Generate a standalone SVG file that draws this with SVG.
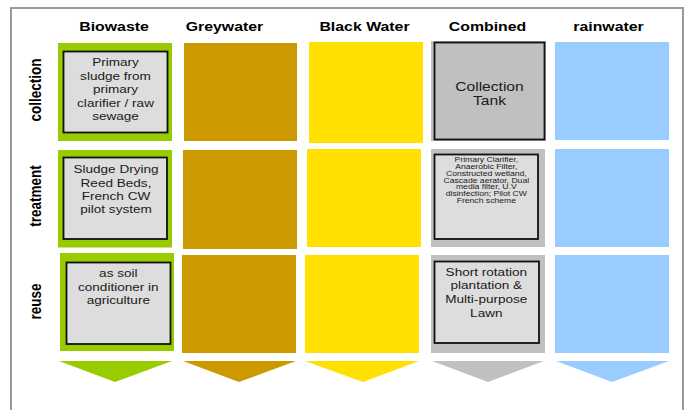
<svg xmlns="http://www.w3.org/2000/svg" width="687" height="410" viewBox="0 0 687 410">
<style>
.hdr{font-family:"Liberation Sans",Arial,sans-serif;font-weight:bold;font-size:13px;fill:#000;text-anchor:middle}
.row{font-family:"Liberation Sans",Arial,sans-serif;font-weight:bold;font-size:13.5px;fill:#000;text-anchor:middle}
.t{font-family:"Liberation Sans",Arial,sans-serif;font-size:11.5px;fill:#1a1a1a;text-anchor:middle}
.tl{font-family:"Liberation Sans",Arial,sans-serif;font-size:13px;fill:#1a1a1a;text-anchor:middle}
.s{font-family:"Liberation Sans",Arial,sans-serif;font-size:7.3px;fill:#1a1a1a;text-anchor:middle}
.bio{fill:#99CC00}.grey{fill:#CC9900}.black{fill:#FFE000}.comb{fill:#C0C0C0}.rain{fill:#99CCFF}
.inner{fill:#DDDDDD;stroke:#111;stroke-width:1.8}
.innerg{fill:#C0C0C0;stroke:#111;stroke-width:1.8}
</style>
<rect x="0" y="0" width="687" height="410" fill="#fff"/>
<rect x="11" y="8" width="672" height="412" fill="none" stroke="#9a9a9a" stroke-width="2"/>
<g id="headers">
<text class="hdr" transform="translate(114 31) scale(1.22 1)">Biowaste</text>
<text class="hdr" transform="translate(224.5 31) scale(1.22 1)">Greywater</text>
<text class="hdr" transform="translate(364.5 31) scale(1.22 1)">Black Water</text>
<text class="hdr" transform="translate(487.5 31) scale(1.22 1)">Combined</text>
<text class="hdr" transform="translate(608.5 31) scale(1.22 1)">rainwater</text>
</g>
<g id="rowlabels">
<text class="row" transform="translate(41 90) scale(1.25 1) rotate(-90)">collection</text>
<text class="row" transform="translate(41 196) scale(1.25 1) rotate(-90)">treatment</text>
<text class="row" transform="translate(41 301.5) scale(1.25 1) rotate(-90)">reuse</text>
</g>
<g id="bio-collection">
<rect class="bio" x="58" y="43" width="114" height="98"/>
<rect class="inner" x="63.5" y="51.5" width="104" height="81"/>
<text class="t" transform="translate(115.5 0) scale(1.18 1)"><tspan x="0" y="66">Primary</tspan><tspan x="0" y="80">sludge from</tspan><tspan x="0" y="93.5">primary</tspan><tspan x="0" y="107">clarifier / raw</tspan><tspan x="0" y="120.5">sewage</tspan></text>
</g>
<g id="grey-collection"><rect class="grey" x="184" y="43" width="113" height="98"/></g>
<g id="black-collection"><rect class="black" x="309" y="42" width="114" height="101"/></g>
<g id="comb-collection">
<rect class="comb" x="431" y="41" width="115" height="100"/>
<rect class="innerg" x="434.5" y="42.5" width="110" height="97"/>
<text class="tl" transform="translate(489.5 0) scale(1.2 1)"><tspan x="0" y="91">Collection</tspan><tspan x="0" y="105.5">Tank</tspan></text>
</g>
<g id="rain-collection"><rect class="rain" x="555" y="42" width="114" height="98"/></g>

<g id="bio-treatment">
<rect class="bio" x="58" y="150" width="114" height="97.5"/>
<rect class="inner" x="63.5" y="157.5" width="103.5" height="81.5"/>
<text class="t" transform="translate(116 0) scale(1.18 1)"><tspan x="0" y="173.3">Sludge Drying</tspan><tspan x="0" y="186.7">Reed Beds,</tspan><tspan x="0" y="200">French CW</tspan><tspan x="0" y="213.3">pilot system</tspan></text>
</g>
<g id="grey-treatment"><rect class="grey" x="183" y="150" width="114" height="99"/></g>
<g id="black-treatment"><rect class="black" x="307" y="149" width="114" height="98"/></g>
<g id="comb-treatment">
<rect class="comb" x="431" y="149" width="114" height="98"/>
<rect class="inner" x="434.5" y="154.5" width="103.5" height="84.5"/>
<text class="s" transform="translate(486.3 0) scale(1.18 1)"><tspan x="0" y="162.5">Primary Clarifier,</tspan><tspan x="0" y="169.2">Anaerobic Filter,</tspan><tspan x="0" y="175.9">Constructed wetland,</tspan><tspan x="0" y="182.6">Cascade aerator, Dual</tspan><tspan x="0" y="189.3">media filter, U.V</tspan><tspan x="0" y="196">disinfection;  Pilot CW</tspan><tspan x="0" y="202.7">French scheme</tspan></text>
</g>
<g id="rain-treatment"><rect class="rain" x="555" y="149" width="114" height="98"/></g>

<g id="bio-reuse">
<rect class="bio" x="60" y="253" width="114" height="98"/>
<rect class="inner" x="66.5" y="262.5" width="104" height="81.5"/>
<text class="t" transform="translate(118.3 0) scale(1.18 1)"><tspan x="0" y="276.7">as soil</tspan><tspan x="0" y="290.7">conditioner in</tspan><tspan x="0" y="304.3">agriculture</tspan></text>
</g>
<g id="grey-reuse"><rect class="grey" x="182" y="255" width="114" height="98"/></g>
<g id="black-reuse"><rect class="black" x="305" y="255" width="114" height="98"/></g>
<g id="comb-reuse">
<rect class="comb" x="431" y="255" width="114" height="98"/>
<rect class="inner" x="434.5" y="261.5" width="104.5" height="81.5"/>
<text class="t" transform="translate(486.3 0) scale(1.18 1)"><tspan x="0" y="276">Short rotation</tspan><tspan x="0" y="289.3">plantation &amp;</tspan><tspan x="0" y="303.3">Multi-purpose</tspan><tspan x="0" y="316.7">Lawn</tspan></text>
</g>
<g id="rain-reuse"><rect class="rain" x="555" y="255" width="114" height="98"/></g>

<g id="arrows">
<polygon class="bio" points="59,361 172,361 115,382"/>
<polygon class="grey" points="183,361 296,361 239,382"/>
<polygon class="black" points="305,361 419,361 363,382"/>
<polygon class="comb" points="432,361 544,361 488,382"/>
<polygon class="rain" points="556,361 669,361 612,382"/>
</g>
</svg>
